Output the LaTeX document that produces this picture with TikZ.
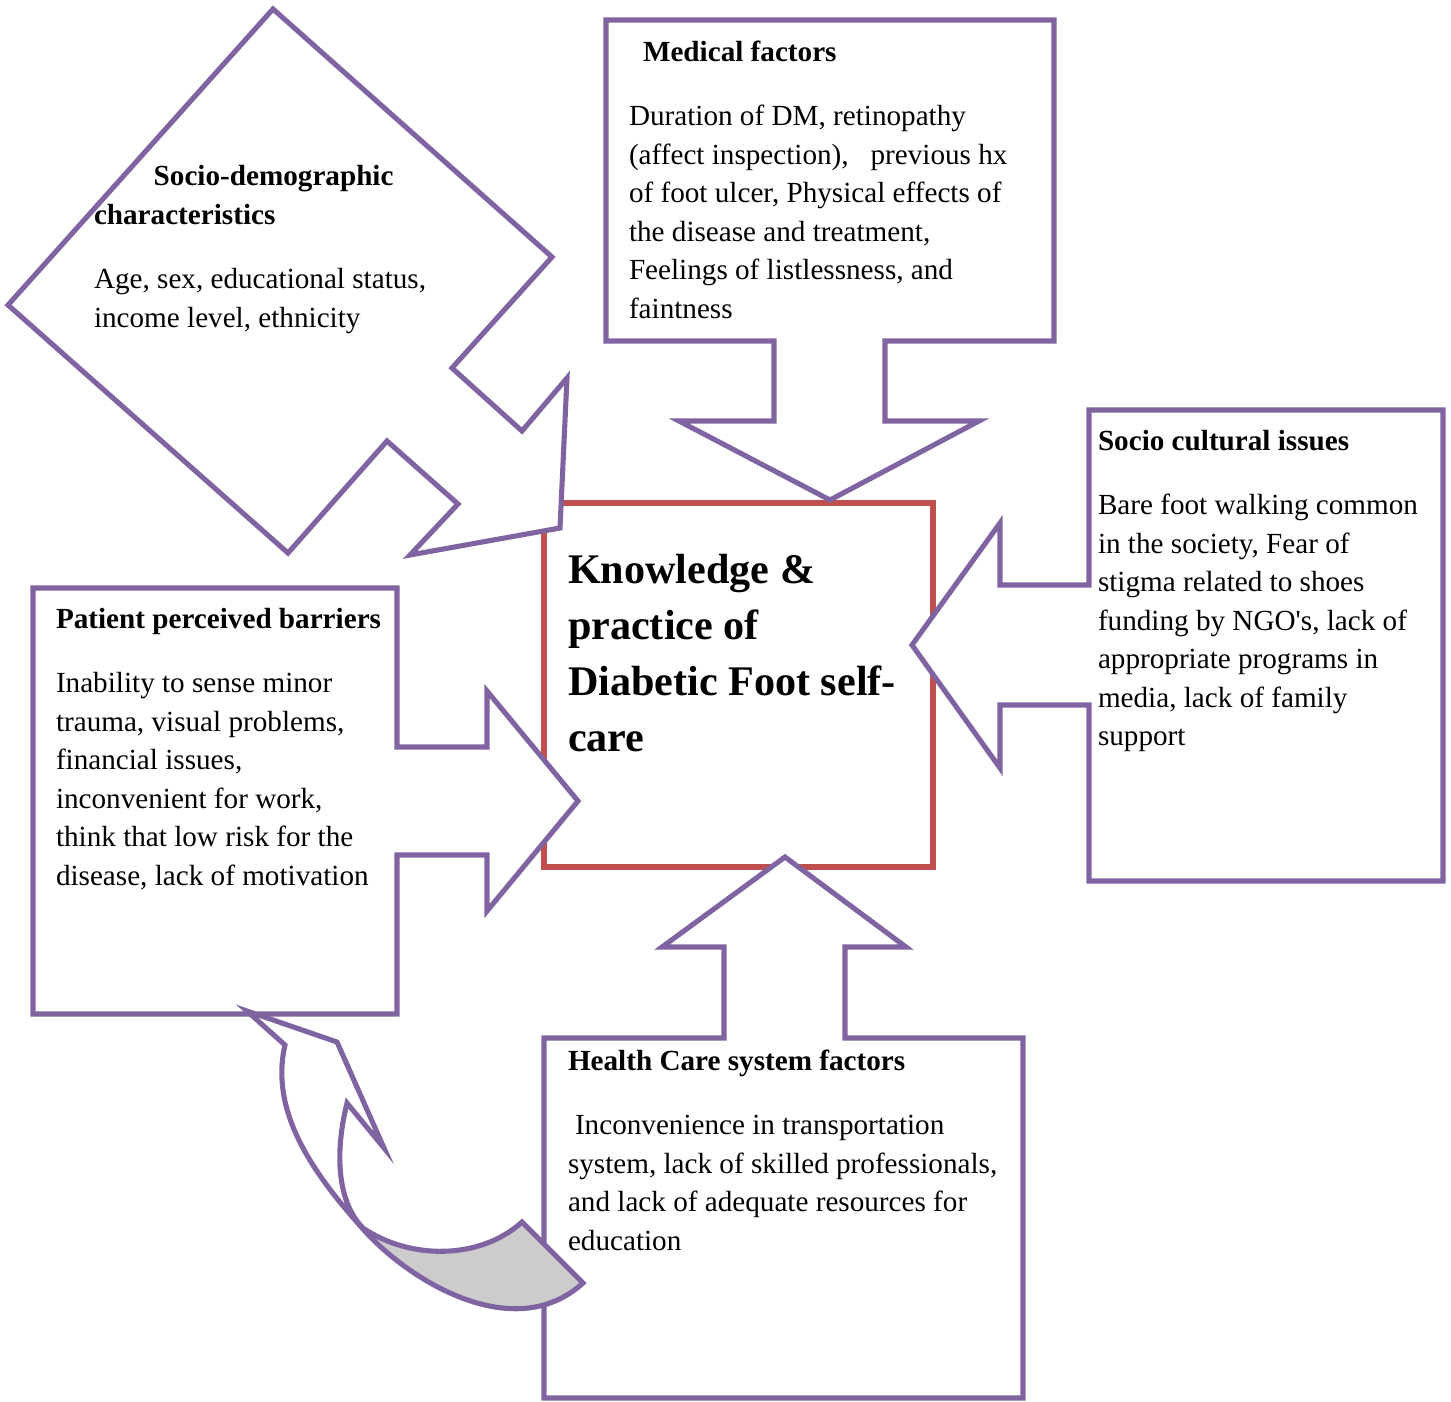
\documentclass[tikz,border=0pt]{standalone}
\usepackage{fontspec}
\setmainfont{Liberation Serif}
\usepackage{xcolor}
\usepackage{tikz}

\definecolor{factorpurple}{HTML}{8064A2}
\definecolor{corered}{HTML}{C0504D}
\definecolor{twistgray}{HTML}{CCCCCC}

\begin{document}
\begin{tikzpicture}[
    x=0.02cm, y=-0.02cm,
    callout/.style={draw=factorpurple, line width=2.9pt, fill=white, line join=miter},
    core/.style={draw=corered, line width=2.9pt, fill=white},
    head/.style={anchor=base west, inner sep=0pt, outer sep=0pt, font=\fontsize{16.6}{21.9}\selectfont\bfseries},
    body/.style={anchor=north west, inner sep=0pt, outer sep=0pt, align=left, font=\fontsize{16.6}{21.9}\selectfont},
    coretext/.style={anchor=north west, inner sep=0pt, outer sep=0pt, align=left, font=\fontsize{24}{31.9}\selectfont\bfseries}
]
    \useasboundingbox (0,0) rectangle (1451,1401);

    % Centre box
    \draw[core] (544,503) rectangle (933,867);

    % Callouts
    \draw[callout] (273,9) -- (552,257) -- (452,368) -- (522,431) -- (567,378) -- (560,528)
        -- (410,555) -- (458,504) -- (387,441) -- (288,553) -- (8,305) -- cycle;
    \draw[callout] (606,20) -- (1054,20) -- (1054,341) -- (885,341) -- (885,421) -- (979,421)
        -- (830,500) -- (679,421) -- (774,421) -- (774,341) -- (606,341) -- cycle;
    \draw[callout] (1089,410) -- (1443,410) -- (1443,881) -- (1089,881) -- (1089,705) -- (1000,705)
        -- (1000,768) -- (912,645) -- (1000,523) -- (1000,585) -- (1089,585) -- cycle;
    \draw[callout] (33,588) -- (397,588) -- (397,747) -- (487,747) -- (487,691) -- (578,801)
        -- (487,911) -- (487,855) -- (397,855) -- (397,1014) -- (33,1014) -- cycle;
    \draw[callout] (544,1038) -- (724,1038) -- (724,947) -- (662,947) -- (785,857) -- (906,947)
        -- (845,947) -- (845,1038) -- (1023,1038) -- (1023,1398) -- (544,1398) -- cycle;

    % Curved arrow
    \fill[twistgray] (363,1228) .. controls (410,1282) and (515,1345) .. (583,1283)
        -- (522,1222) .. controls (480,1260) and (410,1260) .. (363,1228) -- cycle;
    \draw[callout, fill=none] (247,1011) -- (337,1042) -- (384,1148) -- (347,1103)
        .. controls (333,1160) and (340,1205) .. (363,1228)
        .. controls (410,1260) and (480,1260) .. (522,1222)
        -- (583,1283)
        .. controls (515,1345) and (410,1282) .. (363,1229)
        .. controls (310,1170) and (270,1110) .. (285,1045)
        -- cycle;

    % Nodes
    \node[coretext] (core) at (568,544) {\strut Knowledge \&\\practice of\\Diabetic Foot self-\\care};

    \node[body, font=\fontsize{16.6}{21.9}\selectfont\bfseries] (demohead) at (94,159)
        {\strut\hspace*{34pt}Socio-demographic\\characteristics};
    \node[body] (demotext) at (94,262) {\strut Age, sex, educational status,\\income level, ethnicity};

    \node[head] (medhead) at (643,61) {Medical factors};
    \node[body] (medtext) at (629,99) {\strut Duration of DM, retinopathy\\(affect inspection),\ \ \ previous hx\\of foot ulcer, Physical effects of\\the disease and treatment,\\Feelings of listlessness, and\\faintness};

    \node[head] (culthead) at (1098,450) {Socio cultural issues};
    \node[body] (culttext) at (1098,488) {\strut Bare foot walking common\\in the society, Fear of\\stigma related to shoes\\funding by NGO\textquotesingle s, lack of\\appropriate programs in\\media, lack of family\\support};

    \node[head] (barrhead) at (56,628) {Patient perceived barriers};
    \node[body] (barrtext) at (56,666) {\strut Inability to sense minor\\trauma, visual problems,\\financial issues,\\inconvenient for work,\\think that low risk for the\\disease, lack of motivation};

    \node[head] (carehead) at (568,1070) {Health Care system factors};
    \node[body] (caretext) at (568,1108) {\strut\hspace*{4pt}Inconvenience in transportation\\system, lack of skilled professionals,\\and lack of adequate resources for\\education};
\end{tikzpicture}
\end{document}
